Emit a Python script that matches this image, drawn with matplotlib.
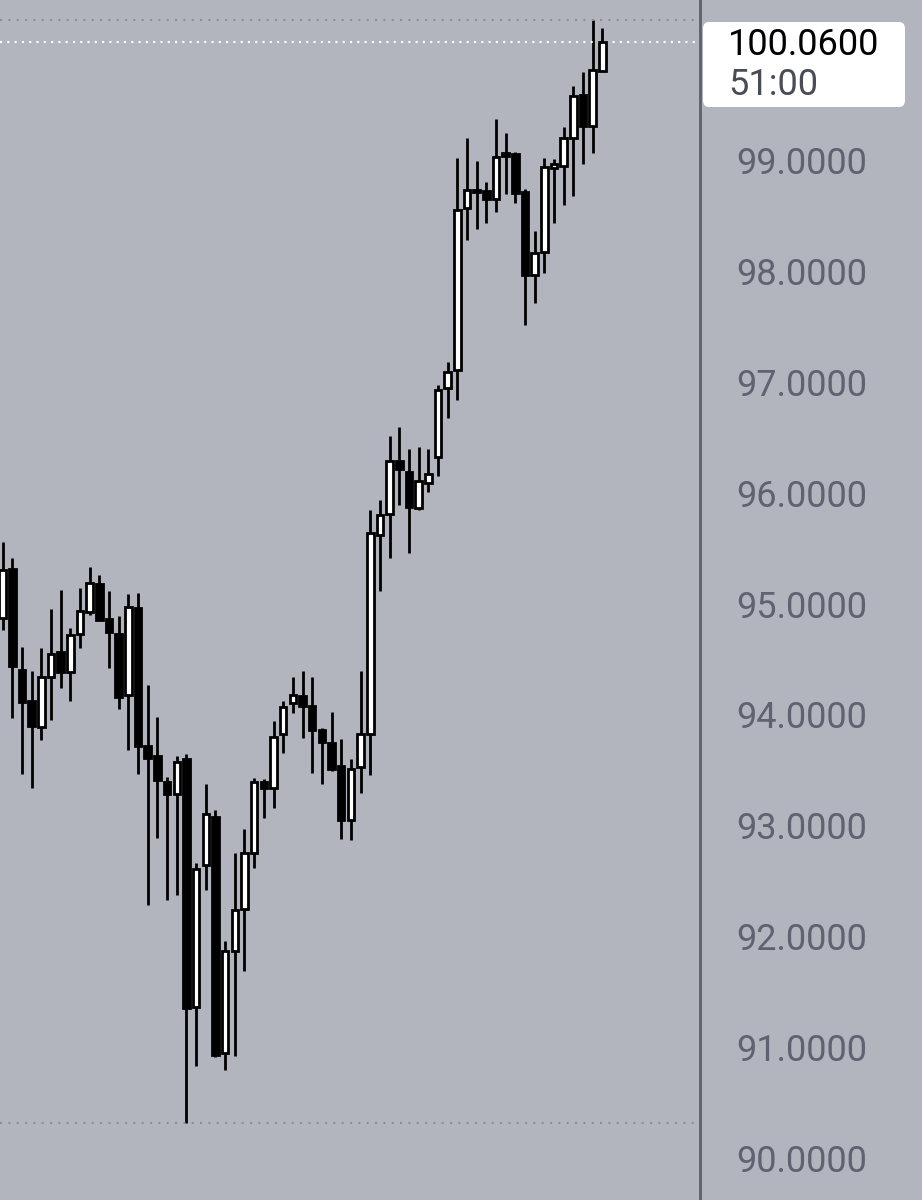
import matplotlib
matplotlib.use("Agg")
import matplotlib.pyplot as plt
from matplotlib.patches import Rectangle, FancyBboxPatch
from matplotlib.transforms import blended_transform_factory

# OHLC, oldest first
opens = [94.87, 95.31, 94.40, 94.12, 93.89, 94.34, 94.56, 94.38, 94.73, 94.92,
         95.18, 94.86, 94.73, 94.18, 94.96, 93.72, 93.63, 93.39, 93.28, 93.60,
         91.36, 92.64, 93.08, 90.95, 91.87, 92.25, 92.75, 93.39, 93.34, 93.82,
         94.10, 94.17, 94.08, 93.86, 93.74, 93.54, 93.05, 93.53, 93.82, 95.62,
         95.81, 96.29, 96.19, 95.86, 96.09, 96.32, 96.94, 97.11, 98.57, 98.71,
         98.72, 98.65, 99.06, 99.05, 98.71, 97.96, 98.17, 98.93, 98.95, 99.20,
         99.59, 99.31, 99.80]
closes = [95.30, 94.44, 94.11, 93.90, 94.34, 94.55, 94.38, 94.72, 94.93, 95.19,
          94.85, 94.74, 94.16, 94.97, 93.72, 93.61, 93.41, 93.28, 93.57, 91.35,
          92.61, 93.10, 90.93, 91.87, 92.24, 92.75, 93.39, 93.34, 93.80, 94.07,
          94.18, 94.08, 93.86, 93.75, 93.51, 93.05, 93.51, 93.82, 95.64, 95.80,
          96.29, 96.21, 95.87, 96.11, 96.17, 96.93, 97.09, 98.55, 98.73, 98.73,
          98.65, 99.03, 99.04, 98.70, 97.96, 98.16, 98.94, 98.96, 99.20, 99.58,
          99.31, 99.81, 100.06]
highs = [95.56, 95.41, 94.61, 94.39, 94.60, 94.95, 95.12, 94.78, 95.14, 95.33,
         95.26, 95.11, 94.89, 95.09, 95.10, 94.27, 93.98, 93.44, 93.63, 93.64,
         92.66, 93.37, 93.14, 91.96, 92.75, 92.97, 93.43, 93.42, 93.94, 94.12,
         94.34, 94.39, 94.34, 93.88, 94.02, 93.78, 93.60, 94.39, 95.84, 95.93,
         96.51, 96.59, 96.39, 96.41, 96.39, 96.97, 97.18, 99.02, 99.20, 98.99,
         98.80, 99.37, 99.24, 99.07, 98.74, 98.36, 99.02, 99.01, 99.30, 99.67,
         99.79, 100.26, 100.19]
lows = [94.76, 93.97, 93.46, 93.34, 93.77, 93.95, 94.24, 94.12, 94.60, 94.90,
        94.85, 94.42, 94.05, 93.68, 93.46, 92.28, 92.89, 92.33, 92.37, 90.32,
        90.83, 92.42, 90.91, 90.79, 90.92, 91.69, 92.62, 93.07, 93.16, 93.65,
        94.01, 93.79, 93.47, 93.37, 93.49, 92.88, 92.87, 93.29, 93.45, 95.11,
        95.41, 95.89, 95.46, 95.84, 96.01, 96.15, 96.67, 96.84, 98.28, 98.38,
        98.43, 98.53, 98.69, 98.61, 97.51, 97.71, 97.98, 98.43, 98.59, 98.68,
        98.96, 99.06, 99.80]
price_ticks = [90, 91, 92, 93, 94, 95, 96, 97, 98, 99]
last_price = "100.0600"
countdown = "51:00"

BG = "#b3b5be"

fig = plt.figure(figsize=(9.22, 12), dpi=100, facecolor=BG)
ax = fig.add_axes([0, 0, 700 / 922, 1])
ax.set_facecolor(BG)

for i, (o, c, h, l) in enumerate(zip(opens, closes, highs, lows)):
    ax.vlines(i, l, h, color="black", linewidth=2, zorder=2)
    face = "white" if c >= o else "black"
    bottom = min(o, c)
    height = max(abs(c - o), 0.02)
    ax.add_patch(Rectangle((i - 0.34, bottom), 0.68, height, facecolor=face,
                           edgecolor="black", linewidth=2, zorder=3))

ax.set_xlim(-0.28, 72.1)
ax.set_ylim(89.622, 100.443)

# high / low / last price lines
ax.axhline(max(highs), color="#8c8f99", linestyle=(0, (1, 3)), linewidth=1.5)
ax.axhline(min(lows), color="#8c8f99", linestyle=(0, (1, 3)), linewidth=1.5)
ax.axhline(float(last_price), color="white", linestyle=(0, (1, 2.5)), linewidth=1.5)

for s in ["top", "left", "bottom"]:
    ax.spines[s].set_visible(False)
ax.spines["right"].set_color("#5d606b")
ax.spines["right"].set_linewidth(2)
ax.set_xticks([])
ax.yaxis.tick_right()
ax.set_yticks(price_ticks)
ax.set_yticklabels([f"{p:.4f}" for p in price_ticks], fontsize=26,
                   color="#5f6270", family="Roboto")
ax.tick_params(axis="y", length=0, pad=26)

# last price box
box = FancyBboxPatch((703 / 922, 1 - 107 / 1200), 202 / 922, 85 / 1200,
                     boxstyle="round,pad=0,rounding_size=0.006",
                     transform=fig.transFigure, facecolor="white",
                     edgecolor="none")
fig.patches.append(box)
fig.text(728 / 922, 1 - 45 / 1200, last_price, fontsize=26, color="black",
         family="Roboto", va="center")
fig.text(728 / 922, 1 - 85 / 1200, countdown, fontsize=26, color="#4a4c55",
         family="Roboto", va="center")

fig.savefig("out.png", dpi=100, facecolor=BG)
